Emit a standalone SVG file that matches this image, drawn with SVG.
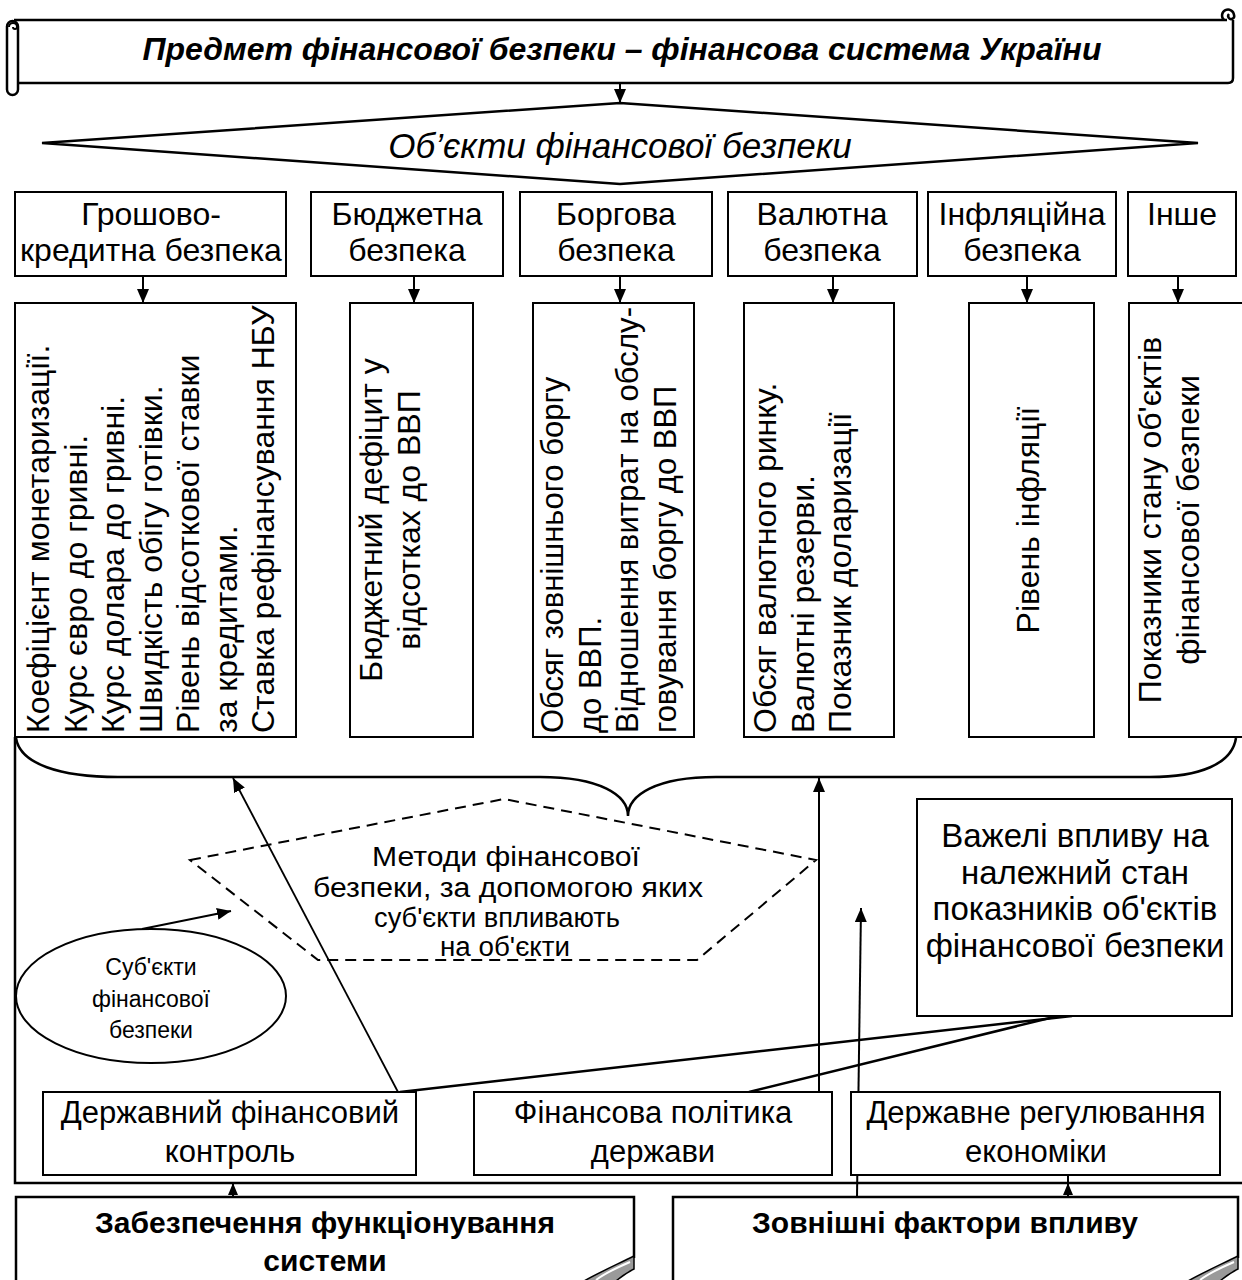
<svg xmlns="http://www.w3.org/2000/svg" width="1242" height="1280" viewBox="0 0 1242 1280">
<defs>
<marker id="ah" viewBox="0 0 14 12" refX="14" refY="6" markerWidth="14" markerHeight="12" markerUnits="userSpaceOnUse" orient="auto"><path d="M0,0 L14,6 L0,12 Z" fill="#000"/></marker>
<marker id="ahs" viewBox="0 0 12 10" refX="12" refY="5" markerWidth="12" markerHeight="10" markerUnits="userSpaceOnUse" orient="auto"><path d="M0,0 L12,5 L0,10 Z" fill="#000"/></marker>
</defs>
<style>
text{font-family:"Liberation Sans",Arial,sans-serif;fill:#000}
.c{text-anchor:middle}
.box{fill:#fff;stroke:#000;stroke-width:2}
.thick{fill:#fff;stroke:#000;stroke-width:2.5}
.ln{fill:none;stroke:#000;stroke-width:2}
.ln2{fill:none;stroke:#000;stroke-width:2.5}
.dash{fill:none;stroke:#000;stroke-width:2;stroke-dasharray:11 7}
.arr{fill:none;stroke:#000;stroke-width:2;marker-end:url(#ah)}
.f32{font-size:32px}
.f31{font-size:31px}
.f33{font-size:33px}
.f27{font-size:27px}
.f23{font-size:23px}
.bi{font-size:32px;font-weight:bold;font-style:italic}
.it{font-size:35px;font-style:italic}
.bd{font-size:30px;font-weight:bold}
.fold{fill:#9a9a9a;stroke:#000;stroke-width:1.5}
.foldw{fill:none;stroke:#fff;stroke-width:2}
</style>

<g id="frame">
<path class="ln2" d="M15,737 L15,1183 L1242,1183"/>
<path class="ln2" d="M16,738 C20,764 60,777 118,777 L540,777 C600,777 628,795 628,816 C628,795 656,777 716,777 L1150,777 C1200,777 1232,764 1236,738"/>
</g>

<g id="connectors">
<line class="arr" x1="620" y1="84" x2="620" y2="103"/>
<line class="arr" x1="143" y1="276" x2="143" y2="303"/>
<line class="arr" x1="414" y1="276" x2="414" y2="303"/>
<line class="arr" x1="620" y1="276" x2="620" y2="303"/>
<line class="arr" x1="833" y1="276" x2="833" y2="303"/>
<line class="arr" x1="1027" y1="276" x2="1027" y2="303"/>
<line class="arr" x1="1178" y1="276" x2="1178" y2="303"/>
<line class="arr" x1="398" y1="1092" x2="233" y2="778" style="stroke-width:1.8"/>
<line class="arr" x1="819" y1="1092" x2="819" y2="778"/>
<line class="arr" x1="857" y1="1197" x2="861" y2="908"/>
<line class="arr" x1="142" y1="929" x2="231" y2="911"/>
<line class="ln2" x1="1072" y1="1016" x2="400" y2="1092"/>
<line class="ln2" x1="1058" y1="1016" x2="749" y2="1092"/>
<line class="ln" x1="233" y1="1197" x2="233" y2="1183" style="marker-end:url(#ahs)"/>
<line class="ln" x1="1068" y1="1175" x2="1068" y2="1197"/>
<line class="ln" x1="1068" y1="1197" x2="1068" y2="1183" style="marker-end:url(#ahs)"/>
</g>

<g id="subject">
<path class="thick" d="M1227,20 L14,20 M18,83 L1228,83 Q1233,83 1233,78 L1233,20"/>
<path class="ln2" d="M1224,20 A6,6 0 1 1 1234,15 A3,3 0 1 1 1229,14"/>
<rect x="7" y="21" width="11" height="74" rx="5.5" class="thick"/>
<path class="ln" d="M9,27 A4,4 0 1 1 17,27 A2,2 0 1 1 13,27"/>
<text class="bi c" x="622" y="60">Предмет фінансової безпеки – фінансова система України</text>
</g>

<g id="objects">
<polygon class="thick" points="42,143 620,103 1198,143 620,184"/>
<text class="it c" x="620" y="158">Об’єкти фінансової безпеки</text>
</g>

<g id="b-money">
<rect class="box" x="15" y="192" width="271" height="84"/>
<text class="f32 c" x="151" y="225">Грошово-</text>
<text class="f32 c" x="151" y="261">кредитна безпека</text>
</g>
<g id="b-budget">
<rect class="box" x="311" y="192" width="192" height="84"/>
<text class="f32 c" x="407" y="225">Бюджетна</text>
<text class="f32 c" x="407" y="261">безпека</text>
</g>
<g id="b-debt">
<rect class="box" x="520" y="192" width="192" height="84"/>
<text class="f32 c" x="616" y="225">Боргова</text>
<text class="f32 c" x="616" y="261">безпека</text>
</g>
<g id="b-currency">
<rect class="box" x="728" y="192" width="189" height="84"/>
<text class="f32 c" x="822" y="225">Валютна</text>
<text class="f32 c" x="822" y="261">безпека</text>
</g>
<g id="b-inflation">
<rect class="box" x="928" y="192" width="188" height="84"/>
<text class="f32 c" x="1022" y="225">Інфляційна</text>
<text class="f32 c" x="1022" y="261">безпека</text>
</g>
<g id="b-other">
<rect class="box" x="1128" y="192" width="108" height="84"/>
<text class="f32 c" x="1182" y="225">Інше</text>
</g>

<g id="i-money">
<rect class="box" x="15" y="303" width="281" height="434"/>
<g transform="translate(15,737) rotate(-90)" class="f32">
<text x="4" y="34">Коефіцієнт монетаризації.</text>
<text x="4" y="71.5">Курс євро до гривні.</text>
<text x="4" y="109">Курс долара до гривні.</text>
<text x="4" y="146.5">Швидкість обігу готівки.</text>
<text x="4" y="184">Рівень відсоткової ставки</text>
<text x="4" y="221.5">за кредитами.</text>
<text x="4" y="259">Ставка рефінансування НБУ</text>
</g>
</g>
<g id="i-budget">
<rect class="box" x="350" y="303" width="123" height="434"/>
<g transform="translate(350,520) rotate(-90)" class="f32 c">
<text x="0" y="32">Бюджетний дефіцит у</text>
<text x="0" y="70">відсотках до ВВП</text>
</g>
</g>
<g id="i-debt">
<rect class="box" x="533" y="303" width="161" height="434"/>
<g transform="translate(533,737) rotate(-90)" class="f31">
<text x="4" y="30">Обсяг зовнішнього боргу</text>
<text x="4" y="67.5">до ВВП.</text>
<text x="4" y="105" textLength="426" lengthAdjust="spacing">Відношення витрат на обслу-</text>
<text x="4" y="142.5">говування боргу до ВВП</text>
</g>
</g>
<g id="i-currency">
<rect class="box" x="744" y="303" width="150" height="434"/>
<g transform="translate(744,737) rotate(-90)" class="f32">
<text x="4" y="32">Обсяг валютного ринку.</text>
<text x="4" y="69.5">Валютні резерви.</text>
<text x="4" y="107">Показник доларизації</text>
</g>
</g>
<g id="i-inflation">
<rect class="box" x="969" y="303" width="125" height="434"/>
<g transform="translate(969,520) rotate(-90)" class="f32 c">
<text x="0" y="70">Рівень інфляції</text>
</g>
</g>
<g id="i-other">
<rect class="box" x="1129" y="303" width="130" height="434"/>
<g transform="translate(1129,520) rotate(-90)" class="f32 c">
<text x="0" y="32">Показники стану об'єктів</text>
<text x="0" y="70">фінансової безпеки</text>
</g>
</g>

<g id="methods">
<polygon class="dash" points="190,860 504,799 816,860 697,960 318,960"/>
<text class="f27 c" x="506" y="866" textLength="268" lengthAdjust="spacingAndGlyphs">Методи фінансової</text>
<text class="f27 c" x="508" y="897" textLength="390" lengthAdjust="spacingAndGlyphs">безпеки, за допомогою яких</text>
<text class="f27 c" x="497" y="927" textLength="246" lengthAdjust="spacingAndGlyphs">суб'єкти впливають</text>
<text class="f27 c" x="505" y="956" textLength="130" lengthAdjust="spacingAndGlyphs">на об'єкти</text>
</g>

<g id="subjects">
<ellipse class="box" cx="151" cy="996" rx="135" ry="67"/>
<text class="f23 c" x="151" y="975">Суб'єкти</text>
<text class="f23 c" x="151" y="1007">фінансової</text>
<text class="f23 c" x="151" y="1038">безпеки</text>
</g>

<g id="levers">
<rect class="box" x="917" y="799" width="315" height="217"/>
<text class="f33 c" x="1075" y="847">Важелі впливу на</text>
<text class="f33 c" x="1075" y="884">належний стан</text>
<text class="f33 c" x="1075" y="920">показників об'єктів</text>
<text class="f33 c" x="1075" y="957">фінансової безпеки</text>
</g>

<g id="control">
<rect class="box" x="43" y="1092" width="373" height="83"/>
<text class="f31 c" x="230" y="1123">Державний фінансовий</text>
<text class="f31 c" x="230" y="1162">контроль</text>
</g>
<g id="policy">
<rect class="box" x="474" y="1092" width="358" height="83"/>
<text class="f31 c" x="653" y="1123">Фінансова політика</text>
<text class="f31 c" x="653" y="1162">держави</text>
</g>
<g id="regulation">
<rect class="box" x="851" y="1092" width="369" height="83"/>
<text class="f31 c" x="1036" y="1123">Державне регулювання</text>
<text class="f31 c" x="1036" y="1162">економіки</text>
</g>

<g id="support">
<path class="thick" d="M16,1282 L16,1197 L634,1197 L634,1258"/>
<path class="fold" d="M634,1256 C618,1264 600,1272 584,1281 L616,1281 C622,1276 628,1272 634,1269 Z"/>
<path class="foldw" d="M630,1262 C616,1268 604,1274 596,1280"/>
<text class="bd c" x="325" y="1233">Забезпечення функціонування</text>
<text class="bd c" x="325" y="1271">системи</text>
</g>
<g id="external">
<path class="thick" d="M673,1282 L673,1197 L1238,1197 L1238,1258"/>
<path class="fold" d="M1238,1256 C1222,1264 1204,1272 1188,1281 L1220,1281 C1226,1276 1232,1272 1238,1269 Z"/>
<path class="foldw" d="M1234,1262 C1220,1268 1208,1274 1200,1280"/>
<text class="bd c" x="945" y="1233">Зовнішні фактори впливу</text>
</g>
</svg>
